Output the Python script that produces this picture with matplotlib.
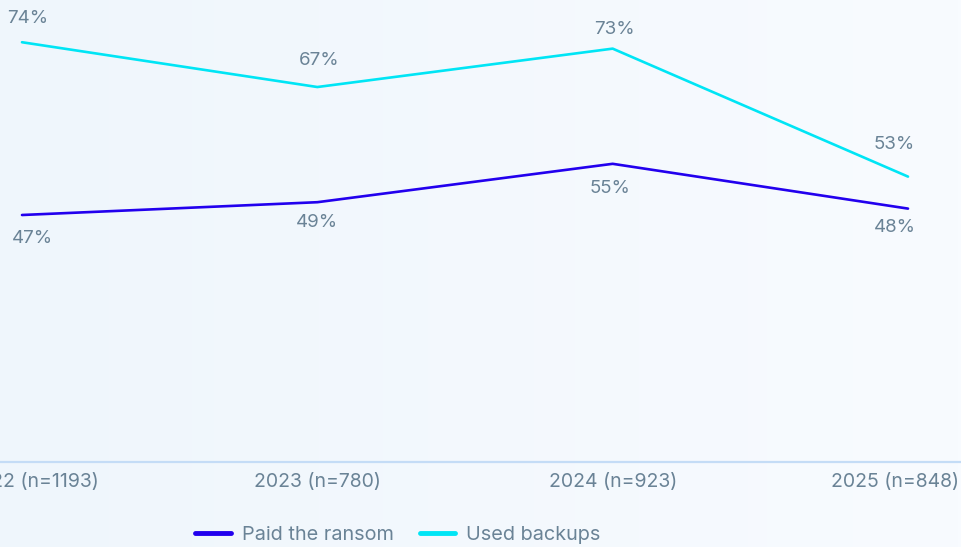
import numpy as np
import matplotlib
matplotlib.use("Agg")
import matplotlib.pyplot as plt
import matplotlib.transforms as mtransforms
from matplotlib.lines import Line2D

years = ["2022 (n=1193)", "2023 (n=780)", "2024 (n=923)", "2025 (n=848)"]
paid_ransom = [47, 49, 55, 48]
used_backups = [74, 67, 73, 53]

PAID_COLOR = "#2200ee"
BACKUP_COLOR = "#00e5f5"
TEXT_COLOR = "#6a8396"

plt.rcParams["font.family"] = ["Inter", "DejaVu Sans"]

fig = plt.figure(figsize=(9.62, 5.47), dpi=100)

# soft background gradient
bg = fig.add_axes([0, 0, 1, 1], zorder=-10)
grad = np.linspace(0, 1, 256).reshape(1, -1)
bg.imshow(grad, aspect="auto", extent=[0, 1, 0, 1],
          cmap=matplotlib.colors.LinearSegmentedColormap.from_list("bg", ["#eff6fc", "#f8fbff"]))
bg.axis("off")

ax = fig.add_axes([0, 85 / 547, 1, 462 / 547])
ax.patch.set_alpha(0)
x = np.arange(len(years))

ax.plot(x, used_backups, color=BACKUP_COLOR, lw=1.9, solid_capstyle="round")
ax.plot(x, paid_ransom, color=PAID_COLOR, lw=1.9, solid_capstyle="round")

ax.set_xlim(-22 / 295.33, 3 + 54 / 295.33)
ax.set_ylim(8.4, 80.6)

# value labels (pixel offsets)
backup_off = [(6, 24), (2, 27), (2, 19), (-14, 32)]
paid_off = [(10, -23), (0, -20), (-3, -25), (-13, -19)]
for xi, v, (dx, dy) in zip(x, used_backups, backup_off):
    ax.annotate(f"{v}%", (xi, v), xytext=(dx * 0.72, dy * 0.72), textcoords="offset points",
                ha="center", va="center", fontsize=13.5, color=TEXT_COLOR)
for xi, v, (dx, dy) in zip(x, paid_ransom, paid_off):
    ax.annotate(f"{v}%", (xi, v), xytext=(dx * 0.72, dy * 0.72), textcoords="offset points",
                ha="center", va="center", fontsize=13.5, color=TEXT_COLOR)

for s in ["top", "right", "left"]:
    ax.spines[s].set_visible(False)
ax.spines["bottom"].set_color("#c4dcf6")
ax.spines["bottom"].set_linewidth(1.6)
ax.set_yticks([])
ax.set_xticks(x)
ax.set_xticklabels(years, fontsize=14, color=TEXT_COLOR)
ax.tick_params(axis="x", length=0, pad=8)

# nudge the edge labels like the original
tick_shift = [11, 0, 0, -13]
for lab, dx in zip(ax.get_xticklabels(), tick_shift):
    lab.set_transform(lab.get_transform() + mtransforms.ScaledTranslation(dx / 100, 0, fig.dpi_scale_trans))

handles = [Line2D([], [], color=PAID_COLOR, lw=3.5, solid_capstyle="round"),
           Line2D([], [], color=BACKUP_COLOR, lw=3.5, solid_capstyle="round")]
leg = fig.legend(handles, ["Paid the ransom", "Used backups"], loc="center",
                 bbox_to_anchor=(398 / 962, 12 / 547), ncol=2, frameon=False,
                 fontsize=14.3, handlelength=1.8, handletextpad=0.55, columnspacing=1.3)
for t in leg.get_texts():
    t.set_color(TEXT_COLOR)

fig.savefig("out.png", dpi=100)
